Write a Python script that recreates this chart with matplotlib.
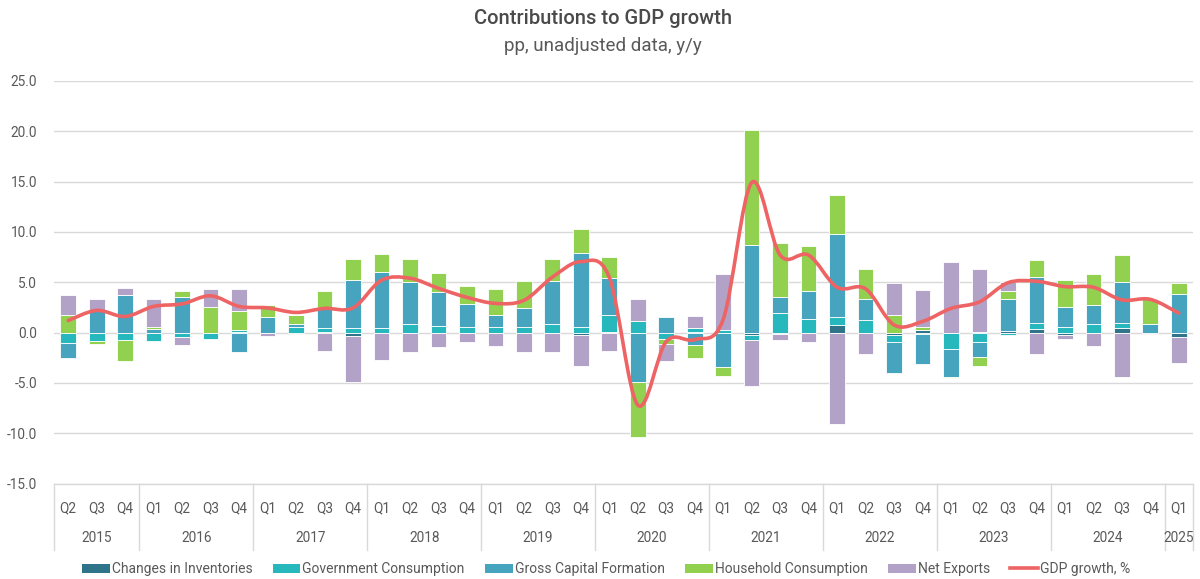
import numpy as np
import matplotlib
matplotlib.use("Agg")
import matplotlib.pyplot as plt
from matplotlib.path import Path
from matplotlib.patches import PathPatch, Patch
from matplotlib.lines import Line2D
import matplotlib.transforms as mtransforms

plt.rcParams['font.family'] = ['Roboto', 'DejaVu Sans']

years = ["2015", "2016", "2017", "2018", "2019", "2020", "2021", "2022", "2023", "2024", "2025"]
quarters = (["Q2", "Q3", "Q4"] + ["Q1", "Q2", "Q3", "Q4"] * 9 + ["Q1"])
year_counts = [3, 4, 4, 4, 4, 4, 4, 4, 4, 4, 1]

inventories = [0, 0, 0, 0, 0, 0, 0.1, 0, 0, 0.1,
               -0.3, 0, 0, 0, 0, 0, 0, 0, -0.23, 0.1,
               0, 0, 0.1, 0, -0.26, -0.15, 0, 0.76, 0, -0.26,
               0.26, 0, 0.1, 0.2, 0.33, -0.2, 0, 0.5, 0, -0.4]
government = [-1.05, -0.83, -0.73, -0.83, -0.4, -0.6, 0.2, 0, 0.6, 0.4,
              0.43, 0.43, 0.83, 0.7, 0.6, 0.6, 0.6, 0.86, 0.53, 1.66,
              1.1, -0.63, 0.33, 0.26, -0.46, 1.92, 1.32, 0.78, 1.26, -0.63,
              -0.1, -1.66, -0.9, -0.2, 0.6, 0.53, 0.83, 0.43, 0, 0]
capital_formation = [-1.45, 2.2, 3.74, 0.4, 3.5, 0, -1.9, 1.5, 0.27, 1.9,
                     4.8, 5.6, 4.24, 3.3, 2.25, 1.16, 1.8, 4.27, 7.35, 3.64,
                     -4.87, 1.59, -1.22, -3.44, 8.7, 1.66, 2.8, 8.28, 2.12, -3.08,
                     -3.0, -2.8, -1.56, 3.15, 4.64, 2.0, 1.92, 4.14, 0.83, 3.84]
household = [1.7, -0.33, -2.12, 0.13, 0.6, 2.5, 1.8, 1.26, 0.9, 1.7,
             2.1, 1.8, 2.2, 1.9, 1.8, 2.55, 2.7, 2.2, 2.4, 2.08,
             -5.46, -0.53, -1.32, -0.86, 11.4, 5.3, 4.5, 3.87, 2.9, 1.75,
             0.33, -0.1, -0.86, 0.8, 1.6, 2.65, 3.05, 2.6, 2.5, 1.13]
net_exports = [2.0, 1.1, 0.66, 2.81, -0.86, 1.8, 2.25, -0.3, 0, -1.8,
               -4.57, -2.7, -1.9, -1.46, -0.96, -1.3, -1.9, -1.9, -3.05, -1.8,
               2.25, -1.66, 1.26, 5.6, -4.64, -0.56, -0.96, -9.07, -2.12, 3.2,
               3.65, 7.0, 6.2, 0.83, -2.12, -0.43, -1.3, -4.44, 0, -2.65]
gdp_growth = [1.2, 2.2, 1.6, 2.6, 2.85, 3.65, 2.6, 2.45, 2.0, 2.4,
              2.45, 5.2, 5.4, 4.4, 3.5, 2.9, 3.2, 5.5, 7.05, 5.5,
              -7.2, -0.9, -0.7, 1.3, 14.9, 7.7, 7.7, 4.5, 4.35, 0.76,
              1.1, 2.4, 3.05, 4.95, 5.1, 4.57, 4.5, 3.25, 3.3, 1.93]

series_names = ["Changes in Inventories", "Government Consumption", "Gross Capital Formation",
                "Household Consumption", "Net Exports"]
series_values = [inventories, government, capital_formation, household, net_exports]
series_colors = ["#2F7489", "#26B8BD", "#46A4BF", "#92D050", "#B2A2C8"]
line_color = "#EE6464"
text_color = "#595959"

W, H = 1200, 579
fig = plt.figure(figsize=(W / 100, H / 100), dpi=100)
ax = fig.add_axes([54 / W, 1 - 483.5 / H, (1193 - 54) / W, (483.5 - 81) / H])

n = len(gdp_growth)
x = np.arange(n)
pos_base = np.zeros(n)
neg_base = np.zeros(n)
for vals, col in zip(series_values, series_colors):
    v = np.array(vals, dtype=float)
    bottom = np.where(v >= 0, pos_base, neg_base)
    ax.bar(x, v, bottom=bottom, width=0.55, color=col, edgecolor="white",
           linewidth=0.6, zorder=2)
    pos_base = pos_base + np.where(v >= 0, v, 0)
    neg_base = neg_base + np.where(v < 0, v, 0)

# smoothed GDP line (Catmull-Rom -> cubic Bezier)
pts = np.column_stack([x, np.array(gdp_growth, dtype=float)])
verts = [tuple(pts[0])]
codes = [Path.MOVETO]
for i in range(n - 1):
    p0 = pts[max(i - 1, 0)]
    p1 = pts[i]
    p2 = pts[i + 1]
    p3 = pts[min(i + 2, n - 1)]
    c1 = p1 + (p2 - p0) / 6.0
    c2 = p2 - (p3 - p1) / 6.0
    verts += [tuple(c1), tuple(c2), tuple(p2)]
    codes += [Path.CURVE4] * 3
ax.add_patch(PathPatch(Path(verts, codes), fill=False, edgecolor=line_color,
                       linewidth=2.6, capstyle="round", joinstyle="round", zorder=3))

ax.set_xlim(-0.5, n - 0.5)
ax.set_ylim(-15, 25)
ax.set_yticks(np.arange(-15, 26, 5))
ax.set_yticklabels([f"{t:.1f}" for t in np.arange(-15, 26, 5)])
ax.tick_params(axis="y", length=0, pad=12, labelsize=9.8, labelcolor=text_color)
ax.yaxis.grid(True, color="#D9D9D9", linewidth=1.0, zorder=0)
ax.set_axisbelow(True)
for s in ["top", "right", "left"]:
    ax.spines[s].set_visible(False)
ax.spines["bottom"].set_color("#D9D9D9")
ax.spines["bottom"].set_linewidth(1.0)

ax.set_xticks(x)
ax.set_xticklabels(quarters)
ax.tick_params(axis="x", length=0, pad=13, labelsize=9.8, labelcolor=text_color)

trans = mtransforms.blended_transform_factory(ax.transData, ax.transAxes)
px = 1.0 / (483.5 - 81)
start = 0
bounds = [-0.5]
for yr, cnt in zip(years, year_counts):
    center = start + (cnt - 1) / 2.0
    ax.text(center, -54.5 * px, yr, transform=trans, ha="center", va="center",
            fontsize=9.8, color=text_color)
    start += cnt
    bounds.append(start - 0.5)
for b in bounds:
    ax.plot([b, b], [0, -66 * px], transform=trans, color="#D9D9D9",
            linewidth=1.0, clip_on=False)

fig.text(0.5025, 1 - 19 / H, "Contributions to GDP growth", ha="center", va="center",
         fontsize=14.5, fontweight="medium", color="#4A4A4A")
fig.text(0.5025, 1 - 46 / H, "pp, unadjusted data, y/y", ha="center", va="center",
         fontsize=13.5, color=text_color)

handles = [Patch(facecolor=c, edgecolor="none") for c in series_colors]
handles.append(Line2D([0], [0], color=line_color, linewidth=2.6))
labels = series_names + ["GDP growth, %"]
fig.legend(handles, labels, ncol=6, loc="center", bbox_to_anchor=(0.505, 1 - 569 / H),
           frameon=False, fontsize=10, labelcolor=text_color, handlelength=2.0,
           handleheight=0.6, handletextpad=0.15, columnspacing=1.45)

fig.savefig("out.png", dpi=100)
